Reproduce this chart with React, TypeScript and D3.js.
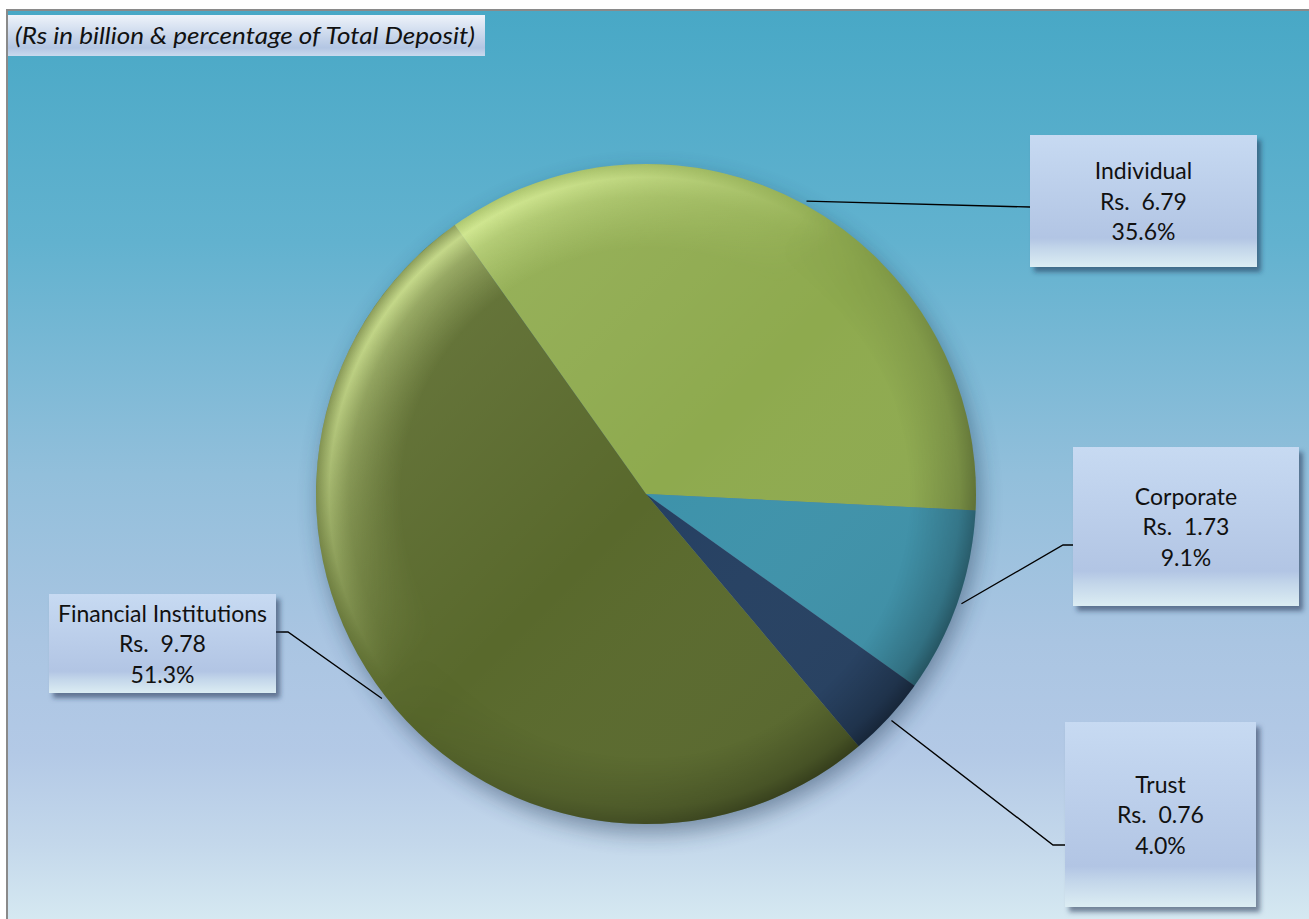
import React from "react";
import * as d3 from "d3";

// ---- data ----
const categories = ["Individual", "Corporate", "Trust", "Financial Institutions"];
const amounts = [6.79, 1.73, 0.76, 9.78];
const percents = [35.6, 9.1, 4.0, 51.3];
const titleText = "(Rs in billion & percentage of Total Deposit)";

// ---- style / layout ----
const sliceColors = ["#8eaa4e", "#3d92aa", "#243f61", "#59692c"];
const W = 1309;
const H = 919;
const cx = 646;
const cy = 494;
const R = 330;
const startDeg = -35.4;

const labelBoxes = [
  { x: 1030, y: 135, w: 227, h: 132, path: [[1030, 207]] },
  { x: 1073, y: 447, w: 226, h: 159, path: [[1063, 545], [1073, 545]] },
  { x: 1065, y: 722, w: 191, h: 185, path: [[1053, 845], [1065, 845]] },
  { x: 49, y: 594, w: 227, h: 99, path: [[288, 632], [276, 632]] },
];

const FONT = "Lato, 'Open Sans', sans-serif";

export default function App() {
  const start = (startDeg * Math.PI) / 180;
  const pie = d3
    .pie<number>()
    .sort(null)
    .value((d) => d)
    .startAngle(start)
    .endAngle(start + 2 * Math.PI);
  const arcs = pie(amounts);
  const arc = d3.arc<d3.PieArcDatum<number>>().innerRadius(0).outerRadius(R);
  const edgeArc = d3.arc<d3.PieArcDatum<number>>().innerRadius(R + 4).outerRadius(R + 4);
  const line = d3.line();

  return (
    <div style={{ position: "absolute", left: 0, top: 0 }}>
      <svg width={W} height={H} style={{ display: "block" }}>
        <defs>
          <linearGradient id="bg" x1="0" y1="0" x2="0" y2="1">
            <stop offset="0" stopColor="#48a8c6" />
            <stop offset="0.25" stopColor="#62b2cf" />
            <stop offset="0.5" stopColor="#92bfdb" />
            <stop offset="0.68" stopColor="#aac5e2" />
            <stop offset="0.8" stopColor="#b3c9e6" />
            <stop offset="0.9" stopColor="#c4d8eb" />
            <stop offset="1" stopColor="#daedf3" />
          </linearGradient>
          <linearGradient id="boxGrad" x1="0" y1="0" x2="0" y2="1">
            <stop offset="0" stopColor="#c7daf2" />
            <stop offset="0.78" stopColor="#b2c5e4" />
            <stop offset="0.86" stopColor="#c3d6ea" />
            <stop offset="1" stopColor="#dcedf3" />
          </linearGradient>
          <linearGradient id="titleGrad" x1="0" y1="0" x2="0" y2="1">
            <stop offset="0" stopColor="#eef3fa" />
            <stop offset="0.8" stopColor="#b3c6e3" />
            <stop offset="1" stopColor="#cadaee" />
          </linearGradient>
          <filter id="boxShadow" x="-10%" y="-10%" width="130%" height="130%">
            <feDropShadow dx="4" dy="5" stdDeviation="2.5" floodColor="#1d3150" floodOpacity="0.55" />
          </filter>
          <filter id="pieShadow" x="-20%" y="-20%" width="140%" height="140%">
            <feGaussianBlur stdDeviation="11" />
          </filter>
          <radialGradient id="rimLight" cx={cx} cy={cy} r={R} gradientUnits="userSpaceOnUse">
            <stop offset="0" stopColor="#e4f9a4" stopOpacity="0" />
            <stop offset="0.74" stopColor="#e4f9a4" stopOpacity="0" />
            <stop offset="0.9" stopColor="#e4f9a4" stopOpacity="0.45" />
            <stop offset="0.96" stopColor="#e4f9a4" stopOpacity="0.8" />
            <stop offset="1" stopColor="#e4f9a4" stopOpacity="0.3" />
          </radialGradient>
          <radialGradient id="rimDark" cx={cx} cy={cy} r={R} gradientUnits="userSpaceOnUse">
            <stop offset="0" stopColor="#000" stopOpacity="0" />
            <stop offset="0.8" stopColor="#000" stopOpacity="0" />
            <stop offset="0.95" stopColor="#000" stopOpacity="0.22" />
            <stop offset="1" stopColor="#000" stopOpacity="0.4" />
          </radialGradient>
          <linearGradient id="maskUL" x1={cx - R * 0.72} y1={cy - R * 0.72} x2={cx - R * 0.1} y2={cy - R * 0.1} gradientUnits="userSpaceOnUse">
            <stop offset="0" stopColor="#fff" />
            <stop offset="1" stopColor="#000" />
          </linearGradient>
          <linearGradient id="maskLR" x1={cx + R * 0.8} y1={cy + R * 0.6} x2={cx - R * 0.1} y2={cy - R * 0.2} gradientUnits="userSpaceOnUse">
            <stop offset="0" stopColor="#fff" />
            <stop offset="1" stopColor="#000" />
          </linearGradient>
          <mask id="mUL">
            <rect x="0" y="0" width={W} height={H} fill="url(#maskUL)" />
          </mask>
          <mask id="mLR">
            <rect x="0" y="0" width={W} height={H} fill="url(#maskLR)" />
          </mask>
          <linearGradient id="surface" x1={cx - R} y1={cy - R} x2={cx + R} y2={cy + R} gradientUnits="userSpaceOnUse">
            <stop offset="0" stopColor="#f0ffc0" stopOpacity="0.14" />
            <stop offset="0.5" stopColor="#fff" stopOpacity="0" />
            <stop offset="1" stopColor="#000" stopOpacity="0.12" />
          </linearGradient>
        </defs>

        {/* frame & background */}
        <rect x={7} y={10} width={W + 10} height={H + 10} fill="url(#bg)" stroke="#8a8a8a" strokeWidth={2} />

        {/* title */}
        <rect x={8} y={15} width={477} height={41} fill="url(#titleGrad)" />
        <text
          x={15}
          y={44}
          fontFamily={FONT}
          fontStyle="italic"
          fontSize={24}
          fill="#111"
          textLength={460}
          lengthAdjust="spacingAndGlyphs"
        >
          {titleText}
        </text>

        {/* pie shadow */}
        <circle cx={cx + 4} cy={cy + 9} r={R} fill="#1b3550" opacity={0.45} filter="url(#pieShadow)" />

        {/* pie */}
        <g transform={`translate(${cx},${cy})`}>
          {arcs.map((a, i) => (
            <path key={categories[i]} d={arc(a) || ""} fill={sliceColors[i]} />
          ))}
        </g>
        <circle cx={cx} cy={cy} r={R} fill="url(#surface)" />
        <circle cx={cx} cy={cy} r={R} fill="url(#rimLight)" mask="url(#mUL)" />
        <circle cx={cx} cy={cy} r={R} fill="url(#rimDark)" mask="url(#mLR)" />

        {/* leader lines */}
        {arcs.map((a, i) => {
          const c = edgeArc.centroid(a);
          const pts: [number, number][] = [[cx + c[0], cy + c[1]], ...(labelBoxes[i].path as [number, number][])];
          return <path key={"l" + i} d={line(pts) || ""} fill="none" stroke="#000" strokeWidth={1.4} />;
        })}

        {/* label boxes */}
        {labelBoxes.map((b, i) => {
          const mx = b.x + b.w / 2;
          const my = b.y + b.h / 2;
          const lines = [categories[i], `Rs.  ${amounts[i].toFixed(2)}`, `${percents[i].toFixed(1)}%`];
          return (
            <g key={"b" + i}>
              <rect x={b.x} y={b.y} width={b.w} height={b.h} fill="url(#boxGrad)" filter="url(#boxShadow)" />
              {lines.map((t, j) => (
                <text
                  key={j}
                  x={mx}
                  y={my - 22 + j * 30.5}
                  textAnchor="middle"
                  fontFamily={FONT}
                  fontSize={23}
                  fill="#111"
                  style={{ whiteSpace: "pre" }}
                >
                  {t}
                </text>
              ))}
            </g>
          );
        })}
      </svg>
    </div>
  );
}
